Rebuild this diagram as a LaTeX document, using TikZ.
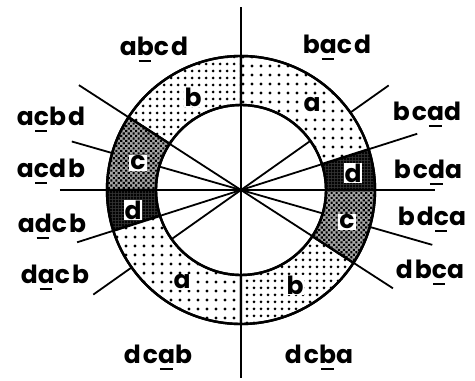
\documentclass[tikz,border=0pt]{standalone}
\usepackage{fontspec}
\newfontfamily\lblfont[LetterSpace=8]{Poppins}
\usetikzlibrary{patterns.meta}
\newcommand{\ulet}[1]{\setbox0\hbox{#1}\rlap{\kern0.1\wd0\rule[-6.5pt]{0.75\wd0}{1.8pt}}\box0}

\begin{document}
\begin{tikzpicture}[x=1pt, y=1pt,
        ray/.style={line width=1.8pt},
        rim/.style={line width=2.4pt},
        lbl/.style={font=\lblfont\bfseries\fontsize{25}{28}\selectfont, anchor=base, inner sep=0pt},
        inl/.style={font=\lblfont\bfseries\fontsize{25}{28}\selectfont, fill=white, inner sep=1pt},
        pa/.style={draw, rim, fill=white, postaction={pattern={Dots[distance=9pt, radius=1.6pt]}}},
        pb/.style={draw, rim, fill=white, postaction={pattern={Dots[distance=6.5pt, radius=1.6pt]}}},
        pc/.style={draw, rim, fill=black!35, postaction={pattern={Dots[distance=3.5pt, radius=1.5pt, angle=45]}}},
        pd/.style={draw, rim, fill=black!80, postaction={pattern={Dots[distance=3pt, radius=1.4pt]}}}
    ]
        \useasboundingbox (-241,-191) rectangle (234,190);

        \coordinate (O)   at (0,0);
        \coordinate (top) at (0,183);
        \coordinate (bot) at (0,-188);
        \coordinate (lft) at (-181,0);
        \coordinate (rgt) at (194,0);
        \coordinate (r1)  at (147.1:193);
        \coordinate (r2)  at (164:176);
        \coordinate (r3)  at (197.7:172);
        \coordinate (r4)  at (215.3:181);
        \coordinate (r5)  at (35.3:181);
        \coordinate (r6)  at (17.7:185);
        \coordinate (r7)  at (344:199);
        \coordinate (r8)  at (327.1:181);

        \draw[ray] (top) -- (bot);
        \draw[ray] (lft) -- (rgt);
        \draw[ray] (O) -- (r1);
        \draw[ray] (O) -- (r2);
        \draw[ray] (O) -- (r3);
        \draw[ray] (O) -- (r4);
        \draw[ray] (O) -- (r5);
        \draw[ray] (O) -- (r6);
        \draw[ray] (O) -- (r7);
        \draw[ray] (O) -- (r8);

        \draw[pb] (90:85) arc[start angle=90, end angle=147.1, radius=85] -- (147.1:134) arc[start angle=147.1, end angle=90, radius=134] -- cycle;
        \draw[pc] (147.1:85) arc[start angle=147.1, end angle=180, radius=85] -- (180:134) arc[start angle=180, end angle=147.1, radius=134] -- cycle;
        \draw[pd] (180:85) arc[start angle=180, end angle=197.7, radius=85] -- (197.7:134) arc[start angle=197.7, end angle=180, radius=134] -- cycle;
        \draw[pa] (197.7:85) arc[start angle=197.7, end angle=270, radius=85] -- (270:134) arc[start angle=270, end angle=197.7, radius=134] -- cycle;
        \draw[pb] (270:85) arc[start angle=270, end angle=327.1, radius=85] -- (327.1:134) arc[start angle=327.1, end angle=270, radius=134] -- cycle;
        \draw[pc] (327.1:85) arc[start angle=327.1, end angle=360, radius=85] -- (0:134) arc[start angle=360, end angle=327.1, radius=134] -- cycle;
        \draw[pd] (0:85) arc[start angle=0, end angle=17.7, radius=85] -- (17.7:134) arc[start angle=17.7, end angle=0, radius=134] -- cycle;
        \draw[pa] (17.7:85) arc[start angle=17.7, end angle=90, radius=85] -- (90:134) arc[start angle=90, end angle=17.7, radius=134] -- cycle;

        \draw[rim] (O) circle[radius=134];
        \draw[rim] (O) circle[radius=85];

        \node[inl] (sb1) at (-48,93)  {b};
        \node[inl] (sc1) at (-103,27) {c};
        \node[inl] (sd1) at (-108,-20) {d};
        \node[inl] (sa1) at (-59,-92) {a};
        \node[inl] (sb2) at (54,-95)  {b};
        \node[inl] (sc2) at (106,-32) {c};
        \node[inl] (sd2) at (112,17)  {d};
        \node[inl] (sa2) at (71,85)   {a};

        \node[lbl] (pabcd) at (-87,135)  {a\ulet{b}cd};
        \node[lbl] (pacbd) at (-190,65)  {a\ulet{c}bd};
        \node[lbl] (pacdb) at (-190,13)  {a\ulet{c}db};
        \node[lbl] (padcb) at (-189,-42) {a\ulet{d}cb};
        \node[lbl] (pdacb) at (-186,-93) {d\ulet{a}cb};
        \node[lbl] (pdcab) at (-83,-173) {dc\ulet{a}b};
        \node[lbl] (pbacd) at (96,137)   {b\ulet{a}cd};
        \node[lbl] (pbcad) at (186,70)   {bc\ulet{a}d};
        \node[lbl] (pbcda) at (187,12)   {bc\ulet{d}a};
        \node[lbl] (pbdca) at (191,-35)  {bd\ulet{c}a};
        \node[lbl] (pdbca) at (189,-88)  {db\ulet{c}a};
        \node[lbl] (pdcba) at (78,-173)  {dc\ulet{b}a};
\end{tikzpicture}
\end{document}
